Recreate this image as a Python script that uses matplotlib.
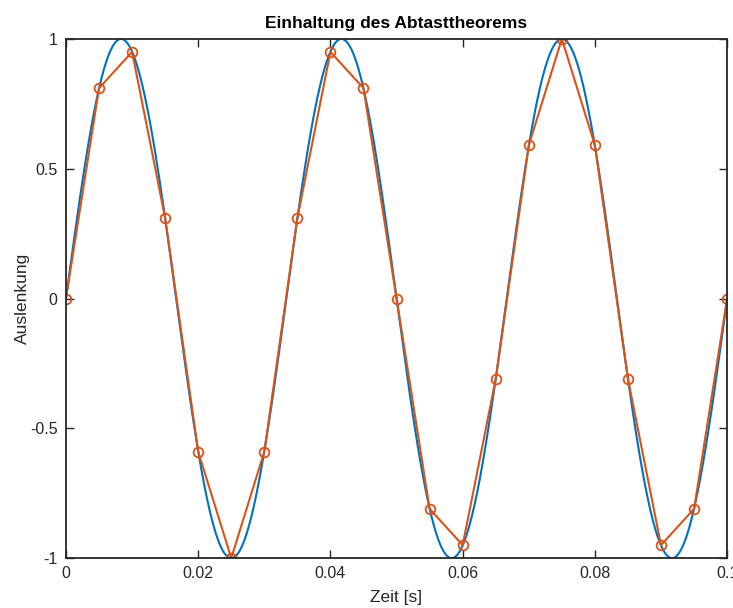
import numpy as np
import matplotlib
matplotlib.use("Agg")
import matplotlib.pyplot as plt

t_samples = [0.000, 0.005, 0.010, 0.015, 0.020, 0.025, 0.030, 0.035, 0.040, 0.045, 0.050,
             0.055, 0.060, 0.065, 0.070, 0.075, 0.080, 0.085, 0.090, 0.095, 0.100]
y_samples = [0.00, 0.81, 0.95, 0.31, -0.59, -1.00, -0.59, 0.31, 0.95, 0.81, 0.00,
             -0.81, -0.95, -0.31, 0.59, 1.00, 0.59, -0.31, -0.95, -0.81, 0.00]

# continuous signal: 30 Hz, amplitude 1 (three periods in 0.1 s)
signal_freq = 30
signal_amp = 1.0
t_start, t_end = 0.0, 0.1

x_ticks = [0, 0.02, 0.04, 0.06, 0.08, 0.1]
x_ticklabels = ["0", "0.02", "0.04", "0.06", "0.08", "0.1"]
y_ticks = [-1, -0.5, 0, 0.5, 1]
y_ticklabels = ["-1", "-0.5", "0", "0.5", "1"]

plt.rcParams['font.family'] = ['Liberation Sans', 'DejaVu Sans']

fig = plt.figure(figsize=(7.33, 6.08), dpi=100)
ax = fig.add_axes([0.090, 0.082, 0.902, 0.854])

t = np.linspace(t_start, t_end, 2000)
ax.plot(t, signal_amp * np.sin(2 * np.pi * signal_freq * t), color="#0072BD", linewidth=1.5)
ax.plot(t_samples, y_samples, color="#D95319", linewidth=1.5, marker="o",
        markersize=7, markerfacecolor="none", markeredgewidth=1.3)

ax.set_xlim(0, 0.1)
ax.set_ylim(-1, 1)
ax.set_xticks(x_ticks)
ax.set_xticklabels(x_ticklabels)
ax.set_yticks(y_ticks)
ax.set_yticklabels(y_ticklabels)
ax.tick_params(direction="in", top=True, right=True, length=6, width=1,
               labelsize=11.5, colors="#262626", pad=6)
for s in ax.spines.values():
    s.set_color("#262626")
    s.set_linewidth(1.3)

ax.set_xlabel("Zeit [s]", fontsize=12.5, color="#262626", labelpad=6)
ax.set_ylabel("Auslenkung", fontsize=12.5, color="#262626", labelpad=0)
ax.set_title("Einhaltung des Abtasttheorems", fontsize=12.5, fontweight="bold", pad=8)

fig.savefig("out.png", dpi=100)
